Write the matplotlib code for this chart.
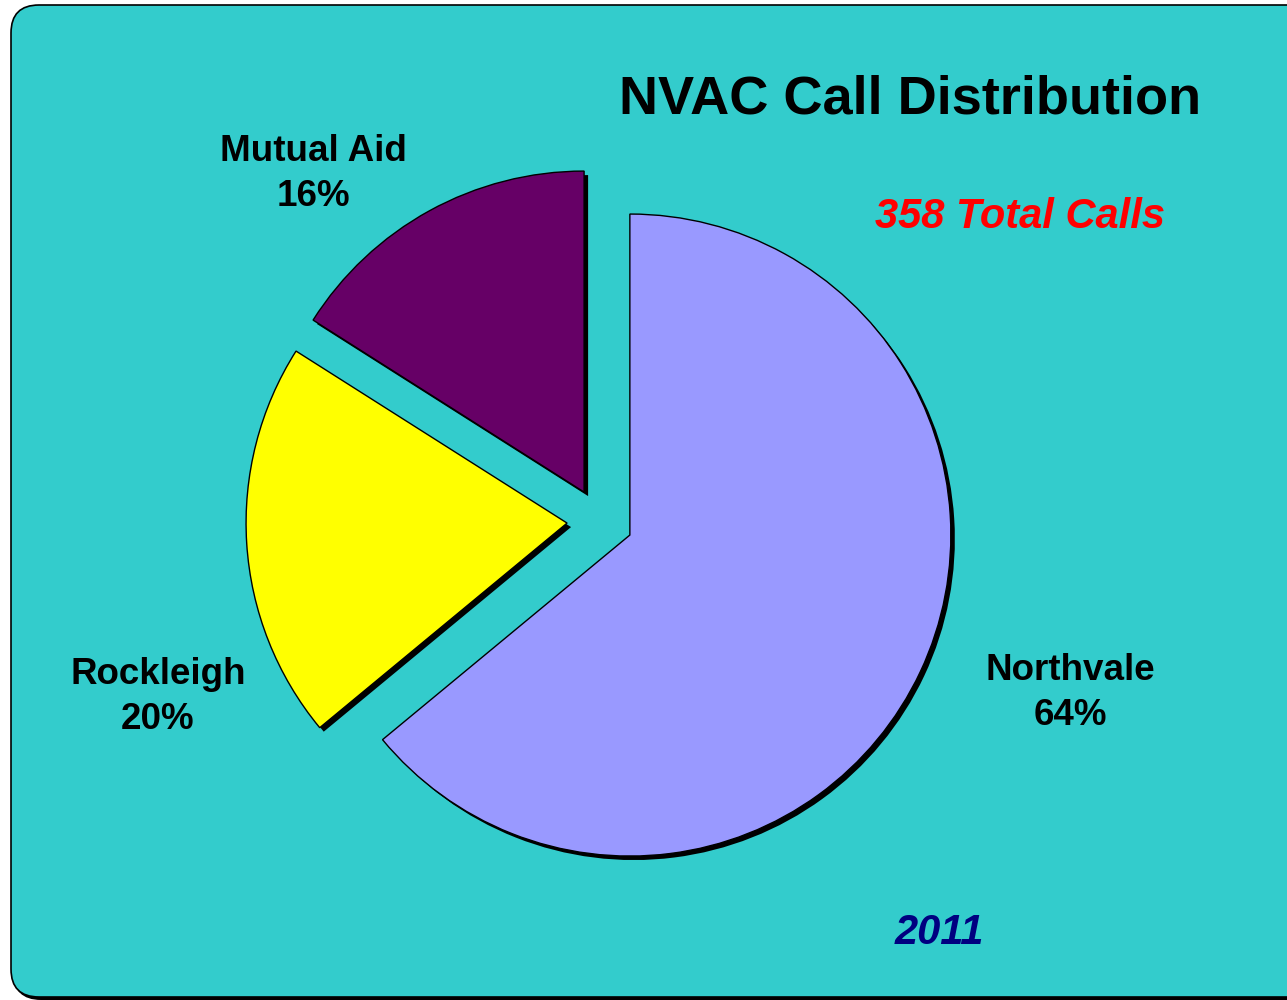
import matplotlib.pyplot as plt
from matplotlib.patches import FancyBboxPatch

# data
labels = ['Northvale', 'Rockleigh', 'Mutual Aid']
shares = [64, 20, 16]
colors = ['#9999FF', '#FFFF00', '#660066']
title = 'NVAC Call Distribution'
total_text = '358 Total Calls'
year_text = '2011'

plt.rcParams['font.family'] = ['Liberation Sans', 'DejaVu Sans']

fig = plt.figure(figsize=(12.87, 10), dpi=100)
ax = fig.add_axes([0, 0, 1, 1])

# background panel with a small shadow
shadow = FancyBboxPatch((13, 0), 1320, 993,
                        boxstyle='round,pad=0,rounding_size=28',
                        facecolor='black', edgecolor='none', zorder=0)
ax.add_patch(shadow)
frame = FancyBboxPatch((11, 3), 1320, 992,
                       boxstyle='round,pad=0,rounding_size=28',
                       facecolor='#33CCCC', edgecolor='black', linewidth=1.2,
                       zorder=0.5)
ax.add_patch(frame)

cx, cy = 600, 479
r = 321
expl = [33, 33, 33]

# pie shadow
ax.pie(shares, colors=['black'] * 3, startangle=90, counterclock=False,
       center=(cx + 4, cy - 4), radius=r, explode=expl,
       wedgeprops=dict(linewidth=0, zorder=1))
# slices
wedges, _ = ax.pie(shares, colors=colors, startangle=90, counterclock=False,
                   center=(cx, cy), radius=r, explode=expl,
                   wedgeprops=dict(edgecolor='black', linewidth=1))
for w in wedges:
    w.set_zorder(2)

ax.set_xlim(0, 1287)
ax.set_ylim(0, 1000)
ax.set_aspect('equal')
ax.axis('off')

lab_pos = [(1070, 307), (158, 303), (313, 826)]
for name, s, (x, y) in zip(labels, shares, lab_pos):
    ax.text(x, y, f'{name}\n{s}%', ha='center', va='center', fontsize=26.5,
            fontweight='bold', linespacing=1.4, zorder=3)

ax.text(910, 901, title, ha='center', va='center', fontsize=39,
        fontweight='bold', zorder=3)
ax.text(1020, 783, total_text, ha='center', va='center', fontsize=30,
        fontweight='bold', style='italic', color='#FF0000', zorder=3)
ax.text(939, 67, year_text, ha='center', va='center', fontsize=30,
        fontweight='bold', style='italic', color='#000080', zorder=3)

fig.savefig('out.png', dpi=100, facecolor='white')
